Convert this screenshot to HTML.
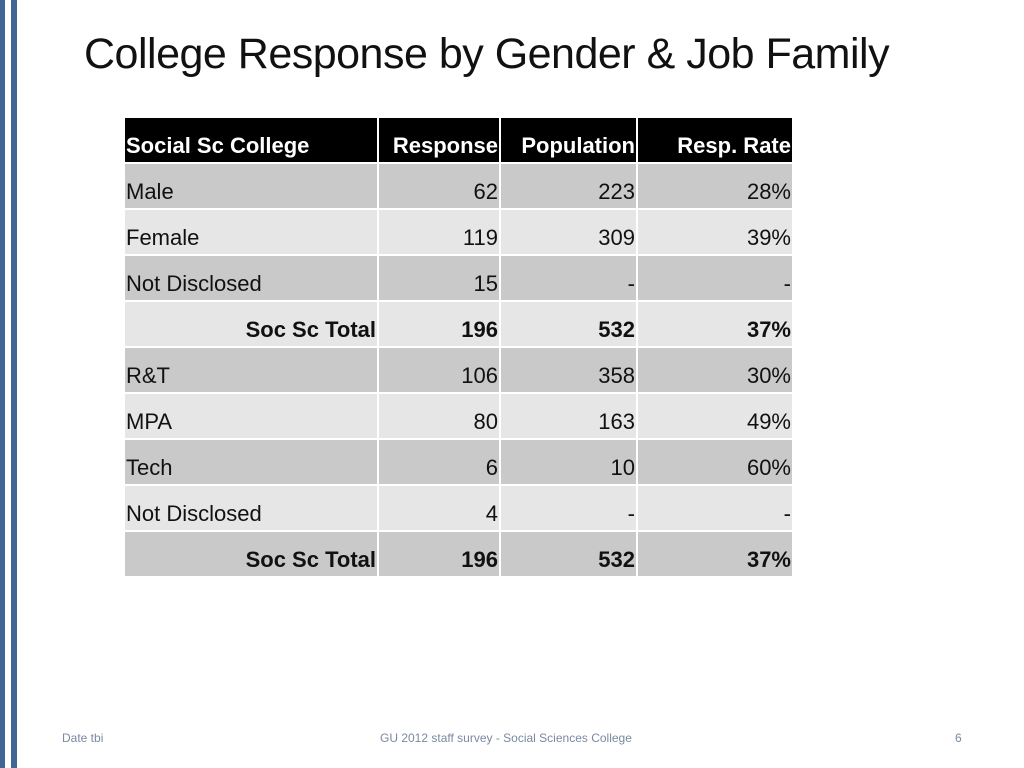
<!DOCTYPE html>
<html><head><meta charset="utf-8"><style>
body{margin:0;width:1024px;height:768px;position:relative;background:#fff;font-family:"Liberation Sans",sans-serif;overflow:hidden}
.bar{position:absolute;top:0;height:768px;background:#3f6695}
h1{position:absolute;left:84px;top:30px;margin:0;font-weight:normal;font-size:43px;color:#111;letter-spacing:-0.5px}
table{position:absolute;left:125px;top:118px;border-collapse:separate;border-spacing:0;font-size:22px;color:#111}
td{height:44px;padding:0 1px;border-right:2px solid #fff;border-bottom:2px solid #fff;text-align:right;vertical-align:bottom;line-height:32px;white-space:nowrap}
td:first-child{text-align:left;width:250px}
td:last-child{border-right:none}
tr.h td{background:#000;color:#fff;font-weight:bold;height:44px}
tr.d td{background:#c9c9c9}
tr.l td{background:#e6e6e6}
tr.t td{font-weight:bold}
tr.t td:first-child{text-align:right}
.f{position:absolute;top:731px;font-size:12px;color:#7a8aa0}
</style></head><body>
<div class="bar" style="left:0;width:5px"></div>
<div class="bar" style="left:11px;width:6px"></div>
<h1>College Response by Gender &amp; Job Family</h1>
<table>
<tr class="h"><td style="width:250px">Social Sc College</td><td style="width:118px">Response</td><td style="width:133px">Population</td><td style="width:152px">Resp. Rate</td></tr>
<tr class="d"><td>Male</td><td>62</td><td>223</td><td>28%</td></tr>
<tr class="l"><td>Female</td><td>119</td><td>309</td><td>39%</td></tr>
<tr class="d"><td>Not Disclosed</td><td>15</td><td>-</td><td>-</td></tr>
<tr class="l t"><td>Soc Sc Total</td><td>196</td><td>532</td><td>37%</td></tr>
<tr class="d"><td>R&amp;T</td><td>106</td><td>358</td><td>30%</td></tr>
<tr class="l"><td>MPA</td><td>80</td><td>163</td><td>49%</td></tr>
<tr class="d"><td>Tech</td><td>6</td><td>10</td><td>60%</td></tr>
<tr class="l"><td>Not Disclosed</td><td>4</td><td>-</td><td>-</td></tr>
<tr class="d t"><td>Soc Sc Total</td><td>196</td><td>532</td><td>37%</td></tr>
</table>
<div class="f" style="left:62px">Date tbi</div>
<div class="f" style="left:380px">GU 2012 staff survey -  Social Sciences College</div>
<div class="f" style="left:955px">6</div>
</body></html>
